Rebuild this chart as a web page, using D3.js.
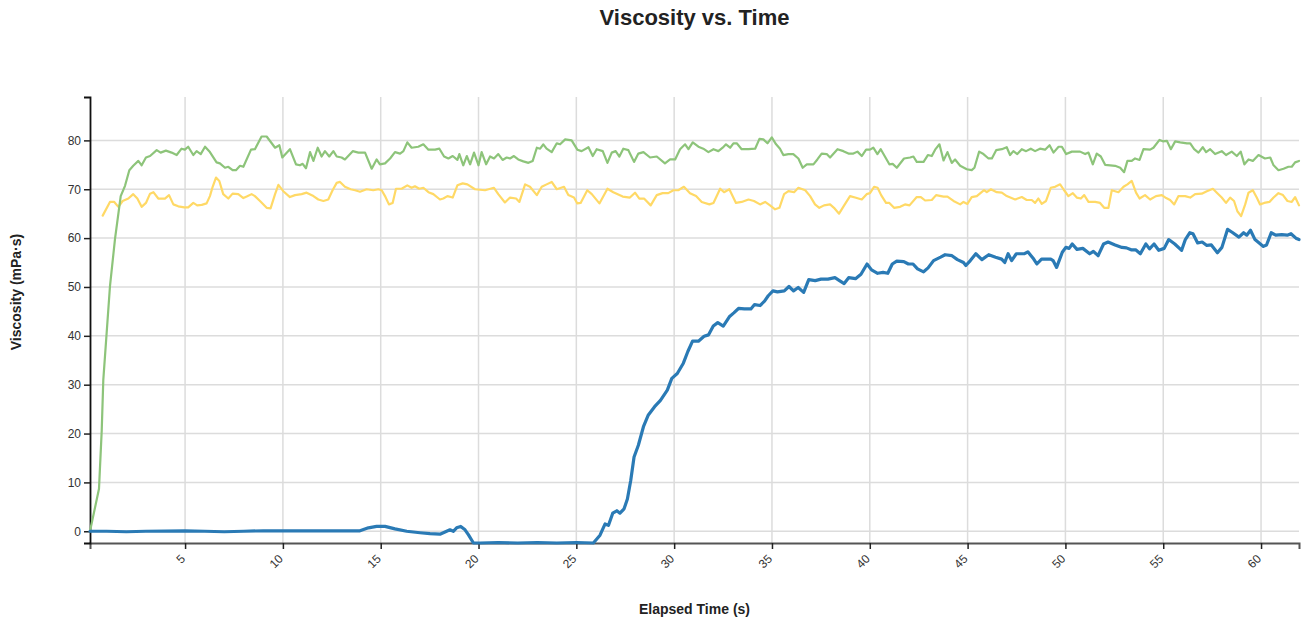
<!DOCTYPE html>
<html>
<head>
<meta charset="utf-8">
<script src="https://d3js.org/d3.v7.min.js"></script>
<style>
  body { margin: 0; background: #fff; font-family: "Liberation Sans", Arial, sans-serif; }
</style>
</head>
<body>
<div id="myPlot"></div>
<script>
// blue series (main sample)
const blueT = [0.14, 1, 2, 3, 4, 5, 6, 7, 8, 9, 9.85, 11.56, 13.94, 14.37, 14.79, 15.22, 15.73, 16.33, 17.01, 17.52, 18.03, 18.37, 18.54, 18.71, 18.88, 19.09, 19.31, 19.48, 19.74, 20.08, 21, 22, 23, 24, 25, 25.87,
  26.21, 26.47, 26.64, 26.86, 27.07, 27.23, 27.44, 27.61, 27.78, 27.95, 28.17, 28.43, 28.68, 29.0, 29.3, 29.65, 29.88, 30.16, 30.47, 30.7, 30.94, 31.24, 31.53, 31.76, 32.0, 32.23, 32.51, 32.82, 33.05, 33.29, 33.59, 33.92,
  34.11, 34.39, 34.62, 34.81, 35.05, 35.28, 35.63, 35.87, 36.1, 36.34, 36.62, 36.88, 37.21, 37.51, 37.86, 38.22, 38.45, 38.69, 38.92, 39.27, 39.55, 39.86, 40.09, 40.4, 40.68, 40.92, 41.15, 41.38, 41.74, 41.97,
  42.21, 42.44, 42.75, 42.98, 43.26, 43.62, 43.85, 44.2, 44.48, 44.79, 44.91, 45.14, 45.42, 45.73, 46.08, 46.43, 46.74, 46.9, 47.07, 47.25, 47.49, 47.91, 48.08, 48.38, 48.54, 48.78, 49.25, 49.37, 49.55, 49.84,
  50.02, 50.19, 50.35, 50.59, 50.89, 51.24, 51.43, 51.67, 51.95, 52.18, 52.54, 52.89, 53.12, 53.36, 53.59, 53.83, 54.11, 54.3, 54.53, 54.77, 55.05, 55.28, 55.59, 55.94, 56.13, 56.36, 56.52, 56.76, 56.99, 57.23,
  57.46, 57.77, 58.0, 58.29, 58.52, 58.87, 59.11, 59.27, 59.46, 59.69, 60.12, 60.28, 60.52, 60.75, 61.06, 61.34, 61.53, 61.81, 61.94];
const blueV = [0, 0, -0.1, 0, 0.05, 0.1, 0, -0.1, 0, 0.1, 0.1, 0.1, 0.1, 0.7, 1.0, 1.0, 0.5, 0, -0.3, -0.5, -0.6, 0, 0.3, 0, 0.7, 1.0, 0.3, -0.7, -2.4, -2.4, -2.3, -2.4, -2.3, -2.4, -2.3, -2.4,
  -0.8, 1.5, 1.2, 3.7, 4.2, 3.7, 4.6, 6.6, 10.4, 15.2, 17.6, 21.4, 23.8, 25.5, 26.8, 28.9, 31.3, 32.3, 34.4, 36.8, 38.9, 38.9, 39.9, 40.2, 42.0, 42.7, 42.0, 43.9, 44.7, 45.6, 45.5, 45.5,
  46.4, 46.2, 47.1, 48.2, 49.2, 49.0, 49.2, 50.1, 49.2, 49.9, 48.9, 51.5, 51.3, 51.6, 51.6, 51.9, 51.3, 50.7, 51.9, 51.7, 52.6, 54.7, 53.5, 52.8, 53.0, 52.8, 54.7, 55.3, 55.2, 54.7,
  54.7, 53.7, 53.1, 53.9, 55.4, 56.1, 56.6, 56.4, 55.6, 55.0, 54.4, 55.4, 56.8, 55.6, 56.6, 56.1, 55.7, 55.0, 56.8, 55.4, 56.8, 56.8, 57.2, 55.7, 54.7, 55.7, 55.7, 55.4, 54.0, 57.1,
  58.1, 57.9, 58.8, 57.7, 57.9, 56.8, 57.3, 56.4, 58.8, 59.2, 58.6, 58.1, 58.0, 57.6, 57.6, 56.8, 58.8, 57.8, 58.8, 57.5, 57.9, 59.7, 58.8, 57.5, 59.7, 61.1, 60.9, 59.0, 59.2, 58.5,
  58.6, 57.0, 58.1, 61.8, 61.2, 60.2, 61.1, 60.6, 61.6, 59.7, 58.3, 58.6, 61.1, 60.6, 60.7, 60.6, 60.9, 59.9, 59.7];

// green series
const greenT = [0.14, 0.6, 0.74, 0.82, 1.16, 1.42, 1.71, 1.93, 2.15, 2.35, 2.61, 2.78, 3.0, 3.21, 3.55, 3.75, 4.02, 4.31, 4.57, 4.82, 4.99, 5.16, 5.42, 5.59, 5.8, 6.02, 6.27, 6.61, 6.78, 7.04, 7.21, 7.43, 7.6, 7.81, 7.98,
  8.37, 8.57, 8.91, 9.17, 9.6, 9.82, 9.97, 10.36, 10.67, 10.87, 11.01, 11.18, 11.39, 11.56, 11.78, 11.98, 12.15, 12.37, 12.58, 12.75, 13.0, 13.17, 13.57, 13.86, 14.2, 14.54, 14.79, 14.96, 15.22, 15.48, 15.73, 15.99,
  16.16, 16.36, 16.58, 16.92, 17.18, 17.44, 17.78, 18.0, 18.24, 18.46, 18.68, 18.92, 19.02, 19.22, 19.4, 19.57, 19.77, 20.0, 20.16, 20.39, 20.59, 20.79, 21.01, 21.23, 21.44, 21.61, 21.81, 22.03, 22.29, 22.55, 22.77,
  22.98, 23.15, 23.31, 23.48, 23.74, 24.0, 24.17, 24.43, 24.76, 25.05, 25.27, 25.62, 25.84, 26.04, 26.35, 26.59, 26.81, 27.01, 27.2, 27.4, 27.66, 27.95, 28.17, 28.43, 28.77, 29.11, 29.53, 29.79, 30.05, 30.3, 30.56,
  30.73, 30.95, 31.24, 31.49, 31.75, 32.01, 32.26, 32.48, 32.65, 32.86, 33.03, 33.2, 33.45, 33.8, 34.14, 34.36, 34.56, 34.77, 34.99, 35.21, 35.41, 35.58, 35.84, 36.09, 36.35, 36.57, 36.78, 37.12, 37.32, 37.54, 37.8,
  37.97, 38.35, 38.65, 38.91, 39.16, 39.37, 39.59, 39.81, 40.01, 40.18, 40.39, 40.56, 41.0, 41.17, 41.38, 41.75, 42.06, 42.23, 42.4, 42.75, 42.97, 43.17, 43.34, 43.56, 43.77, 43.97, 44.19, 44.36, 44.62, 44.96, 45.21,
  45.35, 45.59, 45.81, 46.07, 46.24, 46.46, 46.75, 47.0, 47.17, 47.34, 47.54, 47.77, 47.99, 48.23, 48.45, 48.7, 48.96, 49.19, 49.39, 49.65, 49.82, 50.04, 50.33, 50.75, 51.01, 51.18, 51.4, 51.6, 51.81, 52.03, 52.29,
  52.54, 52.8, 53.0, 53.17, 53.39, 53.56, 53.79, 53.99, 54.33, 54.5, 54.81, 54.98, 55.19, 55.39, 55.61, 55.87, 56.21, 56.38, 56.58, 56.8, 57.02, 57.19, 57.4, 57.65, 57.99, 58.21, 58.5, 58.76, 58.96, 59.15, 59.36,
  59.58, 59.87, 60.2, 60.47, 60.64, 60.89, 61.15, 61.4, 61.57, 61.74, 61.94];
const greenV = [0, 8.7, 20.7, 31, 50.1, 59.9, 68.6, 70.7, 73.9, 74.8, 75.8, 74.9, 76.5, 76.8, 78.0, 77.5, 77.9, 77.5, 77.0, 78.3, 78.1, 78.7, 77.0, 77.8, 77.2, 78.7, 77.6, 75.5, 75.3, 74.4, 74.6, 73.9, 73.9, 74.8, 74.6,
  78.1, 78.2, 80.8, 80.8, 78.5, 79.0, 76.5, 78.2, 75.1, 74.9, 75.2, 74.3, 77.6, 75.8, 78.5, 76.7, 77.8, 76.7, 77.8, 76.7, 76.5, 76.1, 77.8, 77.5, 77.5, 74.2, 76.1, 75.1, 75.3, 76.3, 77.6, 77.3,
  77.8, 79.6, 78.5, 78.7, 79.2, 78.1, 78.1, 78.3, 76.7, 76.3, 76.8, 76.0, 77.2, 74.9, 76.8, 75.1, 77.5, 74.9, 77.6, 75.1, 76.7, 76.3, 77.2, 76.0, 76.5, 76.3, 76.8, 76.1, 75.7, 75.4, 75.8,
  78.5, 78.3, 79.2, 78.3, 77.6, 79.4, 79.2, 80.2, 80.0, 78.1, 77.8, 78.6, 76.8, 78.2, 77.8, 75.4, 77.5, 77.8, 76.7, 78.3, 78.0, 75.6, 77.3, 77.6, 76.5, 76.7, 75.3, 76.1, 76.1, 78.2, 79.2,
  78.2, 79.6, 78.7, 78.3, 77.6, 78.2, 77.8, 78.5, 79.2, 78.5, 79.4, 79.4, 78.2, 78.2, 78.3, 80.3, 80.2, 79.4, 80.6, 79.2, 78.3, 77.0, 77.2, 77.2, 76.3, 74.4, 75.1, 75.1, 76.1, 77.3, 77.2,
  76.5, 78.2, 77.8, 77.3, 77.3, 77.7, 76.8, 78.1, 78.1, 78.5, 77.2, 78.2, 75.1, 75.2, 74.4, 76.3, 76.5, 76.7, 75.6, 75.6, 77.0, 76.8, 78.1, 79.2, 75.9, 77.6, 75.4, 76.1, 74.8, 74.1, 73.9,
  74.4, 77.7, 77.2, 76.3, 76.3, 78.0, 78.2, 78.6, 77.0, 77.8, 77.2, 78.2, 77.8, 78.3, 77.8, 78.3, 78.1, 79.0, 77.5, 78.7, 78.7, 77.2, 77.7, 77.7, 77.2, 77.5, 75.1, 77.3, 76.7, 75.0, 74.9,
  74.8, 74.4, 73.5, 75.8, 75.8, 76.3, 76.0, 78.2, 78.1, 78.5, 80.1, 79.8, 79.9, 78.2, 79.8, 79.6, 79.4, 79.4, 78.2, 77.5, 78.6, 77.6, 78.2, 77.2, 77.8, 77.0, 77.7, 76.8, 77.7, 75.1, 76.1,
  75.8, 77.0, 76.3, 76.5, 74.9, 73.9, 74.2, 74.6, 74.6, 75.5, 75.8];

// yellow series
const yellowT = [0.79, 1.16, 1.38, 1.59, 1.81, 2.1, 2.35, 2.56, 2.78, 3.0, 3.21, 3.38, 3.63, 3.97, 4.18, 4.4, 4.65, 4.96, 5.16, 5.42, 5.62, 5.85, 6.1, 6.27, 6.41, 6.58, 6.75, 6.95, 7.21, 7.43, 7.72, 7.98, 8.15, 8.4, 8.57,
  8.83, 9.17, 9.37, 9.6, 9.77, 10.02, 10.36, 10.62, 10.96, 11.21, 11.56, 11.81, 12.07, 12.32, 12.54, 12.75, 12.92, 13.17, 13.46, 13.69, 13.94, 14.28, 14.62, 14.88, 15.05, 15.22, 15.42, 15.61, 15.78, 16.07, 16.36,
  16.58, 16.75, 16.97, 17.18, 17.44, 17.69, 18.03, 18.2, 18.41, 18.68, 18.92, 19.19, 19.43, 19.82, 20.33, 20.79, 21.01, 21.35, 21.61, 21.92, 22.09, 22.38, 22.63, 22.98, 23.23, 23.48, 23.74, 24.0, 24.37, 24.59,
  24.88, 25.05, 25.22, 25.56, 25.79, 26.18, 26.59, 26.89, 27.37, 27.74, 28.0, 28.22, 28.46, 28.8, 29.11, 29.41, 29.7, 29.96, 30.21, 30.5, 30.81, 31.12, 31.41, 31.8, 32.01, 32.35, 32.55, 32.82, 33.16, 33.45, 33.8,
  34.08, 34.39, 34.65, 34.9, 35.16, 35.38, 35.62, 35.84, 36.13, 36.35, 36.7, 36.95, 37.2, 37.42, 37.66, 37.97, 38.17, 38.43, 38.69, 38.99, 39.25, 39.59, 39.84, 40.01, 40.22, 40.4, 40.58, 40.83, 41.0, 41.24, 41.55,
  41.8, 42.03, 42.4, 42.61, 42.83, 43.17, 43.39, 43.77, 43.97, 44.28, 44.62, 44.79, 44.99, 45.21, 45.47, 45.84, 45.98, 46.19, 46.49, 46.75, 47.0, 47.43, 47.77, 48.02, 48.28, 48.45, 48.62, 48.79, 49.01, 49.25, 49.47,
  49.73, 49.9, 50.15, 50.38, 50.58, 50.79, 50.96, 51.18, 51.52, 51.77, 51.98, 52.2, 52.37, 52.71, 52.97, 53.17, 53.39, 53.61, 53.79, 54.07, 54.33, 54.63, 54.93, 55.15, 55.35, 55.56, 55.78, 56.12, 56.38, 56.63,
  56.97, 57.23, 57.54, 57.74, 57.99, 58.21, 58.42, 58.62, 58.79, 58.98, 59.19, 59.36, 59.58, 59.78, 59.95, 60.16, 60.43, 60.64, 60.89, 61.12, 61.35, 61.57, 61.74, 61.94];
const yellowV = [64.6, 67.4, 67.4, 66.4, 67.6, 68.1, 69.0, 68.1, 66.4, 67.2, 69.1, 69.4, 68.1, 68.1, 68.8, 66.9, 66.5, 66.3, 66.3, 67.2, 66.7, 66.8, 67.1, 68.6, 70.5, 72.4, 71.7, 69.0, 68.1, 69.1, 69.0, 68.2, 68.5, 69.0, 68.6,
  67.6, 66.2, 66.1, 69.0, 70.9, 69.6, 68.4, 68.8, 69.0, 69.3, 68.6, 67.9, 67.6, 67.9, 69.8, 71.3, 71.5, 70.5, 70.0, 69.8, 69.5, 70.0, 69.8, 70.0, 69.8, 68.6, 66.9, 67.2, 70.1, 70.1, 70.8,
  70.3, 70.6, 70.1, 70.3, 69.4, 69.0, 67.9, 68.1, 68.6, 68.3, 70.8, 71.2, 71.0, 70.0, 69.8, 70.3, 69.0, 67.3, 68.3, 68.1, 67.4, 71.0, 70.5, 68.8, 70.5, 71.0, 71.5, 70.0, 70.5, 68.8,
  68.3, 67.1, 67.2, 69.8, 69.0, 67.1, 70.1, 69.4, 68.5, 68.3, 69.3, 68.1, 68.1, 66.7, 68.8, 69.2, 69.2, 69.8, 69.8, 70.5, 69.2, 68.6, 67.4, 66.9, 67.2, 70.1, 69.4, 70.0, 67.2, 67.4, 67.9,
  67.6, 66.9, 67.4, 66.7, 65.9, 66.2, 69.0, 69.6, 69.4, 70.3, 69.8, 68.6, 66.9, 66.2, 66.7, 66.9, 66.2, 65.0, 66.7, 68.6, 68.3, 67.9, 69.0, 69.2, 70.5, 70.3, 68.8, 67.2, 67.2, 66.2, 66.4,
  66.9, 66.7, 68.4, 68.4, 67.7, 67.8, 68.8, 68.5, 68.5, 67.6, 66.9, 67.4, 67.0, 68.4, 68.6, 69.8, 69.4, 70.0, 69.4, 69.3, 68.6, 67.9, 68.4, 67.8, 67.8, 67.2, 68.1, 67.0, 67.6, 70.3, 70.5,
  71.0, 70.0, 68.6, 69.2, 68.3, 68.1, 68.8, 67.4, 67.4, 67.2, 66.2, 66.2, 69.8, 69.4, 70.5, 71.0, 71.7, 69.3, 68.1, 68.8, 67.9, 68.6, 68.8, 68.2, 67.8, 66.9, 68.6, 68.6, 68.3, 69.0,
  69.1, 69.6, 70.1, 69.3, 68.3, 67.2, 68.3, 67.6, 65.5, 64.5, 66.9, 69.3, 69.8, 68.3, 66.9, 67.2, 67.4, 68.3, 69.2, 68.8, 67.6, 67.4, 68.4, 66.7];

const series = [
  { name: "yellow", t: yellowT, v: yellowV, color: "#ffd966", width: 2.2 },
  { name: "green", t: greenT, v: greenV, color: "#8dc47a", width: 2.2 },
  { name: "blue", t: blueT, v: blueV, color: "#2a7ab5", width: 3.2 }
];

const width = 1304, height = 623;
const margin = { top: 97, right: 5, bottom: 80, left: 90 };

const svg = d3.select("#myPlot")
  .append("svg")
  .attr("width", width)
  .attr("height", height);

const allT = [].concat(blueT, greenT, yellowT);
const allV = [].concat(blueV, greenV, yellowV);

const x = d3.scaleLinear()
  .domain(d3.extent(allT))
  .range([margin.left, width - margin.right]);

const y = d3.scaleLinear()
  .domain([d3.min(allV), d3.max(allV) * 1.1])
  .range([height - margin.bottom, margin.top]);

// grid
svg.append("g")
  .selectAll("line")
  .data(x.ticks())
  .join("line")
  .attr("x1", d => x(d)).attr("x2", d => x(d))
  .attr("y1", margin.top).attr("y2", height - margin.bottom)
  .attr("stroke", "#dcdcdc")
  .attr("stroke-width", 1.5);

svg.append("g")
  .selectAll("line")
  .data(y.ticks())
  .join("line")
  .attr("x1", margin.left).attr("x2", width - margin.right)
  .attr("y1", d => y(d)).attr("y2", d => y(d))
  .attr("stroke", "#dcdcdc")
  .attr("stroke-width", 1.5);

// axes
const xAxis = svg.append("g")
  .attr("transform", `translate(0,${height - margin.bottom})`)
  .call(d3.axisBottom(x).tickSize(6));
xAxis.select(".domain").attr("stroke", "#555").attr("stroke-width", 2);
xAxis.selectAll(".tick line").attr("stroke", "#222").attr("stroke-width", 1.5);
xAxis.selectAll("text")
  .attr("font-size", 12)
  .attr("fill", "#333")
  .style("text-anchor", "end")
  .attr("dx", "-0.95em")
  .attr("dy", "0.25em")
  .attr("transform", "rotate(-45)");

const yAxis = svg.append("g")
  .attr("transform", `translate(${margin.left},0)`)
  .call(d3.axisLeft(y).tickSize(6));
yAxis.select(".domain").attr("stroke", "#111").attr("stroke-width", 1.8);
yAxis.selectAll(".tick line").attr("stroke", "#222").attr("stroke-width", 1.5);
yAxis.selectAll("text").attr("font-size", 12).attr("fill", "#333");

// lines
const line = d3.line()
  .x(d => x(d[0]))
  .y(d => y(d[1]));

series.forEach(s => {
  svg.append("path")
    .datum(s.t.map((t, i) => [t, s.v[i]]))
    .attr("fill", "none")
    .attr("stroke", s.color)
    .attr("stroke-width", s.width)
    .attr("stroke-linejoin", "round")
    .attr("stroke-linecap", "round")
    .attr("d", line);
});

// labels
svg.append("text")
  .attr("x", (margin.left + width - margin.right) / 2)
  .attr("y", 25)
  .attr("text-anchor", "middle")
  .attr("font-size", 22)
  .attr("font-weight", "bold")
  .attr("fill", "#222")
  .text("Viscosity vs. Time");

svg.append("text")
  .attr("x", (margin.left + width - margin.right) / 2)
  .attr("y", 614)
  .attr("text-anchor", "middle")
  .attr("font-size", 14)
  .attr("font-weight", "bold")
  .attr("fill", "#222")
  .text("Elapsed Time (s)");

svg.append("text")
  .attr("transform", "translate(21,292) rotate(-90)")
  .attr("text-anchor", "middle")
  .attr("font-size", 14)
  .attr("font-weight", "bold")
  .attr("fill", "#222")
  .text("Viscosity (mPa·s)");
</script>
</body>
</html>
